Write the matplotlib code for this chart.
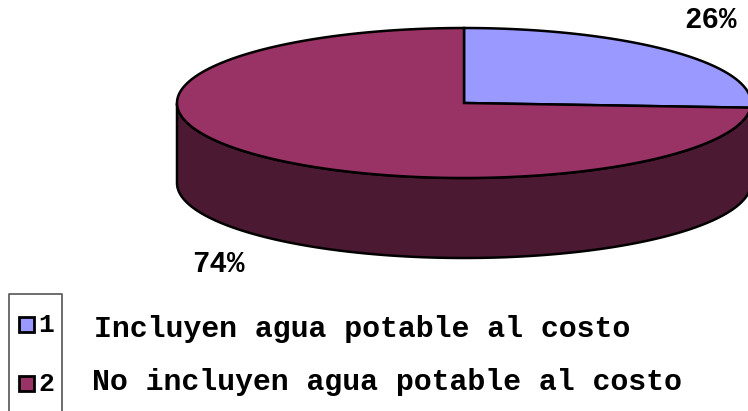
import numpy as np
import matplotlib.pyplot as plt
from matplotlib.patches import Polygon, Rectangle

# data
values = [26, 74]
pct_labels = ['26%', '74%']
keys = ['1', '2']
names = ['Incluyen agua potable al costo', 'No incluyen agua potable al costo']
top_colors = ['#9999FF', '#993366']
side_colors = ['#4D4D80', '#4C1933']

fig = plt.figure(figsize=(7.48, 4.11), dpi=100)
ax = fig.add_axes([0, 0, 1, 1])
ax.set_xlim(0, 748)
ax.set_ylim(411, 0)
ax.axis('off')

# pie geometry in pixels
cx, cy, rx, ry, depth = 464, 103, 287, 75, 80


def ell(t):
    return cx + rx * np.cos(t), cy - ry * np.sin(t)


fracs = np.array(values) / np.sum(values)
starts = np.pi / 2 - 2 * np.pi * np.concatenate([[0], np.cumsum(fracs)[:-1]])
ends = starts - 2 * np.pi * fracs

# sides (front half only)
for s, e, col in zip(starts, ends, side_colors):
    t = np.linspace(e, s, 600)
    t = t[np.sin(t) <= 0]
    if len(t) < 2:
        continue
    x, y = ell(t)
    pts = np.concatenate([np.column_stack([x, y]),
                          np.column_stack([x[::-1], y[::-1] + depth])])
    ax.add_patch(Polygon(pts, closed=True, facecolor=col, edgecolor='black', lw=1.8))

# top faces
for s, e, col in zip(starts, ends, top_colors):
    t = np.linspace(s, e, 600)
    x, y = ell(t)
    pts = np.concatenate([[[cx, cy]], np.column_stack([x, y])])
    ax.add_patch(Polygon(pts, closed=True, facecolor=col, edgecolor='black', lw=1.8))

font = dict(family='Liberation Mono', weight='bold')
ax.text(711, 28, pct_labels[0], ha='center', va='baseline', fontsize=21, **font)
ax.text(218, 272, pct_labels[1], ha='center', va='baseline', fontsize=21, **font)

# legend
ax.plot([9, 9, 62, 62], [420, 294, 294, 420], color='#555555', lw=1.2)
key_y = [324, 383]
for yy, k, col in zip(key_y, keys, top_colors):
    ax.add_patch(Rectangle((19, yy - 7.5), 15, 15, facecolor=col, edgecolor='black', lw=2))
    ax.text(38, yy + 7.5, k, ha='left', va='baseline', fontsize=19, **font)
ax.text(94, 337, names[0], ha='left', va='baseline', fontsize=21.5, **font)
ax.text(92, 390, names[1], ha='left', va='baseline', fontsize=21.5, **font)

fig.savefig('out.png', dpi=100)
plt.close()
